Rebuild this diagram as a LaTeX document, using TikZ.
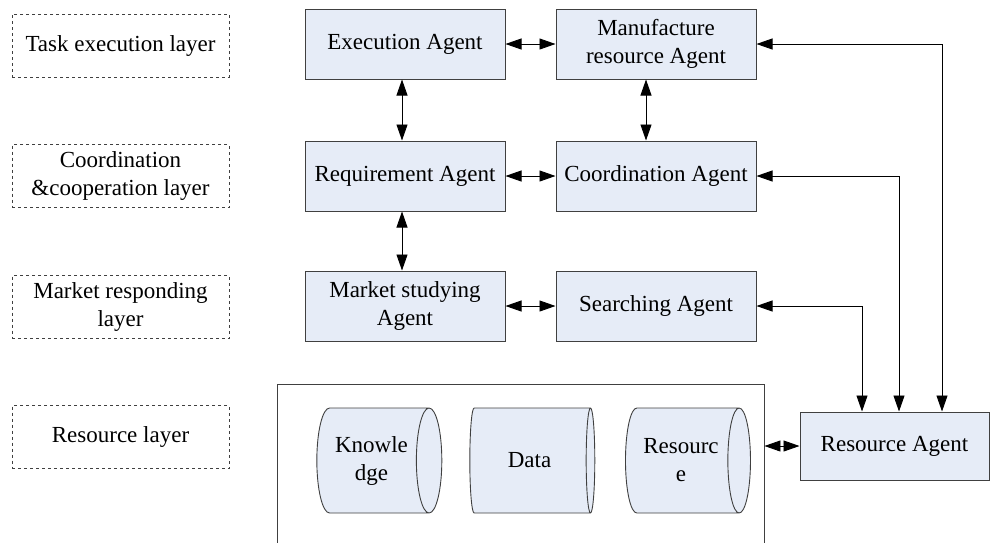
\documentclass[tikz,border=0pt]{standalone}
\usepackage{fontspec}
\setmainfont{Liberation Serif}
\usetikzlibrary{arrows.meta,shapes.geometric}

\definecolor{boxfill}{RGB}{230,236,247}
\definecolor{edge}{RGB}{64,64,64}

\tikzset{
  agent/.style={draw=edge, fill=boxfill, line width=1pt, minimum width=200pt,
    minimum height=70pt, align=center, inner sep=2pt},
  layerbox/.style={draw=edge, dashed, line width=0.7pt, minimum width=217pt,
    minimum height=63pt, align=center},
  store/.style={cylinder, draw=edge, fill=boxfill, line width=0.9pt, aspect=0.5,
    minimum width=105pt, minimum height=125pt, align=center, inner sep=1pt},
  link/.style={{Triangle[length=16pt,width=11pt]}-{Triangle[length=16pt,width=11pt]},
    draw=black, line width=0.9pt},
}

\begin{document}
\begin{tikzpicture}[x=1pt, y=-1pt, font=\fontsize{23}{28}\selectfont]
        \useasboundingbox (0,0) rectangle (990,542);
        % layers on the left
        \node[layerbox] (task) at (120.5,45.5) {Task execution layer};
        \node[layerbox] (coop) at (120.5,176) {Coordination\\\&cooperation layer};
        \node[layerbox] (mkt) at (120.5,307) {Market responding\\layer};
        \node[layerbox] (reslayer) at (120.5,437) {Resource layer};

        % agents
        \node[agent] (exec) at (405,44) {Execution Agent};
        \node[agent] (manu) at (656,44) {Manufacture\\resource Agent};
        \node[agent] (req) at (405,176) {Requirement Agent};
        \node[agent] (coord) at (656,176) {Coordination Agent};
        \node[agent] (market) at (405,306) {Market studying\\Agent};
        \node[agent] (search) at (656,306) {Searching Agent};
        \node[agent, minimum width=189pt, minimum height=68pt] (res) at (894.5,446) {Resource Agent};

        % resource store
        \node[draw=edge, line width=0.9pt, minimum width=487pt, minimum height=172pt] (base) at (520.5,470) {};
        \node[store] (know) at (371.5,460.5) {Knowle\\dge};
        \node[store] (data) at (529.5,460.5) {Data};
        \node[store] (resdb) at (681,460.5) {Resourc\\e};

        % links
        \draw[link] (exec) -- (manu);
        \draw[link] (req) -- (coord);
        \draw[link] (market) -- (search);
        \draw[link] ([xshift=-3pt]exec.south) -- ([xshift=-3pt]req.north);
        \draw[link] ([xshift=-3pt]req.south) -- ([xshift=-3pt]market.north);
        \draw[link] ([xshift=-10pt]manu.south) -- ([xshift=-10pt]coord.north);
        \draw[link] (manu.east) -| ([xshift=47.5pt]res.north);
        \draw[link] (coord.east) -| ([xshift=4.5pt]res.north);
        \draw[link] (search.east) -| ([xshift=-32.5pt]res.north);
        \draw[link] (res.west) -- (res.west -| base.east);
    \end{tikzpicture}
\end{document}
